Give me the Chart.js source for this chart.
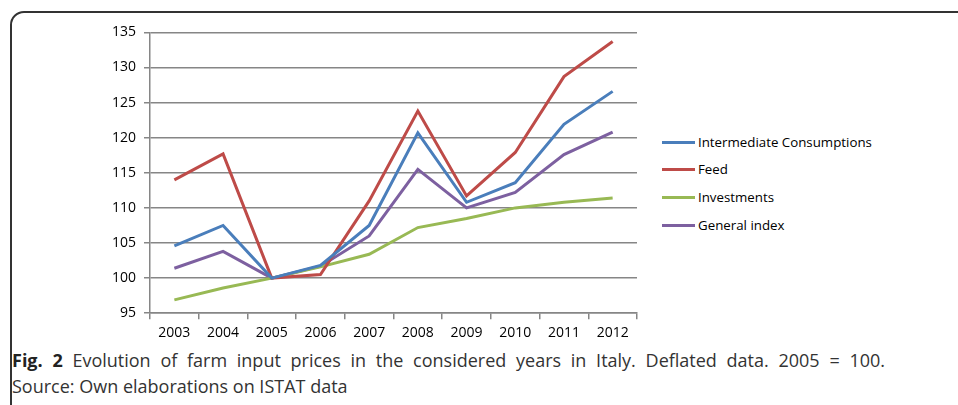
<!DOCTYPE html>
<html>
<head>
<meta charset="utf-8">
<script src="https://cdn.jsdelivr.net/npm/chart.js@4/dist/chart.umd.min.js"></script>
<style>
  html, body { margin: 0; padding: 0; background: #fff; }
  body { width: 958px; height: 405px; position: relative; overflow: hidden; }
  #frame { position: absolute; left: 10px; top: 11px; width: 1000px; height: 500px;
           border: 2px solid #333; border-top-left-radius: 14px; box-sizing: border-box; }
  #wrap { position: absolute; left: 104px; top: 16px; width: 543px; height: 330px; }
  #legend { position: absolute; left: 662px; top: 0; width: 290px; height: 300px;
            font-family: "Open Sans", sans-serif; font-size: 13.3px; color: #000; }
  .li { position: absolute; left: 0; height: 20px; }
  .li .mk { position: absolute; left: 0; top: 9px; width: 33px; height: 3px; }
  .li .tx { position: absolute; left: 36px; top: 0; line-height: 20px; white-space: nowrap; }
  #caption { position: absolute; left: 12px; top: 347px; width: 873px;
             font-family: "Open Sans", sans-serif; font-size: 18px; line-height: 26px;
             color: #333; }
  #cap1 { text-align: justify; text-align-last: justify; white-space: nowrap; }
  #cap1 b { color: #222; }
</style>
</head>
<body>
<div id="frame"></div>
<div id="wrap"><canvas id="c"></canvas></div>
<div id="legend"></div>
<div id="caption"><div id="cap1"><b>Fig. 2</b> Evolution of farm input prices in the considered years in Italy. Deflated data. 2005 = 100.</div><div>Source: Own elaborations on ISTAT data</div></div>
<script>
const years = ["2003","2004","2005","2006","2007","2008","2009","2010","2011","2012"];
const intermediateConsumptions = [104.6, 107.5, 100, 101.8, 107.5, 120.7, 110.8, 113.6, 121.9, 126.6];
const feed = [114.0, 117.7, 100, 100.5, 111.0, 123.8, 111.7, 117.9, 128.7, 133.7];
const investments = [96.9, 98.6, 100, 101.6, 103.4, 107.2, 108.5, 110.0, 110.8, 111.4];
const generalIndex = [101.4, 103.8, 100, 101.7, 106.0, 115.5, 110.0, 112.2, 117.6, 120.8];
const seriesNames = ["Intermediate Consumptions", "Feed", "Investments", "General index"];
const seriesColors = ["#4a7ebb", "#be4b48", "#98b954", "#7d60a0"];
const seriesData = [intermediateConsumptions, feed, investments, generalIndex];

const chart = new Chart(document.getElementById('c'), {
  type: 'line',
  data: {
    labels: years,
    datasets: seriesData.map((d, i) => ({
      label: seriesNames[i],
      data: d,
      borderColor: seriesColors[i],
      backgroundColor: seriesColors[i],
      borderWidth: 3,
      pointRadius: 0,
      tension: 0,
      fill: false
    }))
  },
  options: {
    responsive: true,
    maintainAspectRatio: false,
    animation: false,
    layout: { padding: { top: 10, right: 10, bottom: 0, left: 0 } },
    plugins: {
      legend: { display: false },
      tooltip: { enabled: false }
    },
    scales: {
      x: {
        offset: true,
        grid: { display: true, drawOnChartArea: false, drawTicks: true, offset: true, tickLength: 6, color: '#868686', lineWidth: 1.5 },
        border: { color: '#868686', width: 1.5 },
        ticks: { color: '#000', padding: 5, maxRotation: 0, font: { family: '"Open Sans", sans-serif', size: 14 } }
      },
      y: {
        min: 95, max: 135,
        ticks: { stepSize: 5, color: '#000', padding: 8, font: { family: '"Open Sans", sans-serif', size: 14 } },
        grid: { color: '#868686', lineWidth: 1.5, tickLength: 6, drawTicks: true },
        border: { color: '#868686', width: 1.5 }
      }
    }
  }
});

// HTML legend built from the chart's datasets
const legendTops = [132, 159, 187, 215];
const legendEl = document.getElementById('legend');
chart.data.datasets.forEach((ds, i) => {
  const item = document.createElement('div');
  item.className = 'li';
  item.style.top = legendTops[i] + 'px';
  const mk = document.createElement('div');
  mk.className = 'mk';
  mk.style.background = ds.borderColor;
  const tx = document.createElement('div');
  tx.className = 'tx';
  tx.textContent = ds.label;
  item.appendChild(mk);
  item.appendChild(tx);
  legendEl.appendChild(item);
});
</script>
</body>
</html>
